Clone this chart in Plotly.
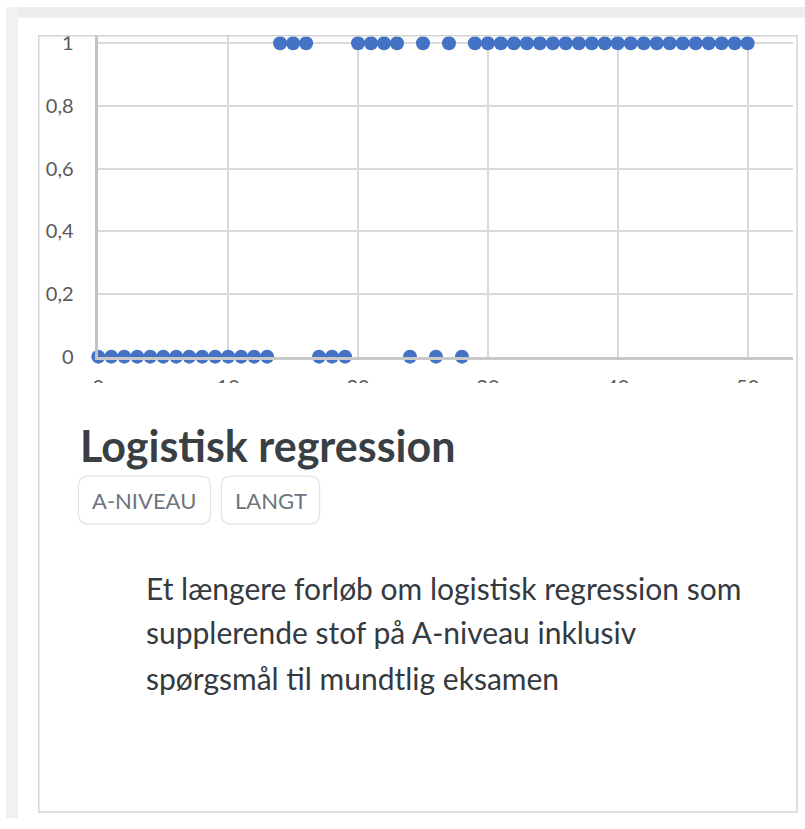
import plotly.graph_objects as go

W, H = 805, 829

# ---- data ----
x_values = list(range(0, 51))
y_values = ([0] * 14 + [1] * 3 + [0] * 3 + [1] * 4 + [0, 1, 0, 1, 0] + [1] * 22)
x_tickvals = [0, 10, 20, 30, 40, 50]
x_ticktext = ["0", "10", "20", "30", "40", "50"]
y_tickvals = [0, 0.2, 0.4, 0.6, 0.8, 1]
y_ticktext = ["0", "0,2", "0,4", "0,6", "0,8", "1"]

title_text = "Logistisk regression"
tags = ["A-NIVEAU", "LANGT"]
desc_lines = [
    "Et længere forløb om logistisk regression som",
    "supplerende stof på A-niveau inklusiv",
    "spørgsmål til mundtlig eksamen",
]


def px(x):
    return x / W


def py(y):
    return 1 - y / H


def rounded_rect(x0, y0, x1, y1, r):
    pts = [
        ("M", x0 + r, y0), ("L", x1 - r, y0), ("Q", x1, y0, x1, y0 + r),
        ("L", x1, y1 - r), ("Q", x1, y1, x1 - r, y1), ("L", x0 + r, y1),
        ("Q", x0, y1, x0, y1 - r), ("L", x0, y0 + r), ("Q", x0, y0, x0 + r, y0),
    ]
    s = ""
    for p in pts:
        if p[0] == "Q":
            s += f"Q {px(p[1]):.5f},{py(p[2]):.5f} {px(p[3]):.5f},{py(p[4]):.5f} "
        else:
            s += f"{p[0]} {px(p[1]):.5f},{py(p[2]):.5f} "
    return s + "Z"


FONT = "Lato"
fig = go.Figure()
fig.add_trace(go.Scatter(
    x=x_values, y=y_values, mode="markers",
    marker=dict(size=14, color="#4472C4", line=dict(width=0)),
    cliponaxis=False, showlegend=False, hoverinfo="x+y",
))

shapes = []
# page background strips
shapes.append(dict(type="rect", xref="paper", yref="paper", x0=0, x1=1, y0=py(12), y1=py(1),
                   fillcolor="#ededed", line=dict(width=0), layer="below"))
shapes.append(dict(type="rect", xref="paper", yref="paper", x0=0, x1=px(12), y0=0, y1=py(1),
                   fillcolor="#f1f1f1", line=dict(width=0), layer="below"))
# cover lower part of x tick labels (chart image is cropped there)
shapes.append(dict(type="rect", xref="paper", yref="paper", x0=px(34), x1=px(796), y0=py(430), y1=py(385),
                   fillcolor="white", line=dict(width=0), layer="above"))
# card border
shapes.append(dict(type="rect", xref="paper", yref="paper", x0=px(33), x1=px(797), y0=py(823), y1=py(30.5),
                   fillcolor="rgba(0,0,0,0)", line=dict(color="#d4d4d4", width=1.5), layer="above"))
# tag boxes
tag_boxes = [(73, 480, 206, 529), (217, 480, 316, 529)]
for (x0, y0, x1, y1) in tag_boxes:
    shapes.append(dict(type="path", xref="paper", yref="paper", path=rounded_rect(x0, y0, x1, y1, 10),
                       fillcolor="white", line=dict(color="#dee2e6", width=1.2), layer="above"))

annotations = []
annotations.append(dict(text=f"<b>{title_text}</b>", x=px(73), y=py(449), xref="paper", yref="paper",
                        xanchor="left", yanchor="middle", showarrow=False,
                        font=dict(family=FONT, size=43, color="#3a3f44")))
for t, (x0, y0, x1, y1) in zip(tags, tag_boxes):
    annotations.append(dict(text=t, x=px((x0 + x1) / 2), y=py((y0 + y1) / 2), xref="paper", yref="paper",
                            xanchor="center", yanchor="middle", showarrow=False,
                            font=dict(family=FONT, size=22, color="#6c757d")))
for line, base in zip(desc_lines, [605, 650, 697]):
    annotations.append(dict(text=line, x=px(139), y=py(base - 11), xref="paper", yref="paper",
                            xanchor="left", yanchor="middle", showarrow=False,
                            font=dict(family=FONT, size=30, color="#343a40")))

fig.update_layout(
    width=W, height=H, margin=dict(l=0, r=0, t=0, b=0),
    paper_bgcolor="white", plot_bgcolor="white",
    shapes=shapes, annotations=annotations,
    xaxis=dict(domain=[px(93), px(793)], range=[0, 53.5], tickvals=x_tickvals, ticktext=x_ticktext,
               showgrid=True, gridcolor="#d9d9d9", gridwidth=2, zeroline=False,
               showline=True, linecolor="#c8c8c8", linewidth=2.5, ticks="", ticklabelstandoff=11,
               tickfont=dict(family=FONT, size=20, color="#595959"), fixedrange=True),
    yaxis=dict(domain=[py(358), py(31)], range=[0, 1.022], tickvals=y_tickvals, ticktext=y_ticktext,
               showgrid=True, gridcolor="#d9d9d9", gridwidth=2, zeroline=False,
               showline=True, linecolor="#c3c3c3", linewidth=2.5, ticks="", ticklabelstandoff=18,
               tickfont=dict(family=FONT, size=20, color="#595959"), fixedrange=True),
)

fig.write_html("out.html", config={"displayModeBar": False},
               post_script="document.documentElement.style.margin='0';document.body.style.margin='0';"
                           "document.body.style.padding='0';document.body.style.overflow='hidden';")
